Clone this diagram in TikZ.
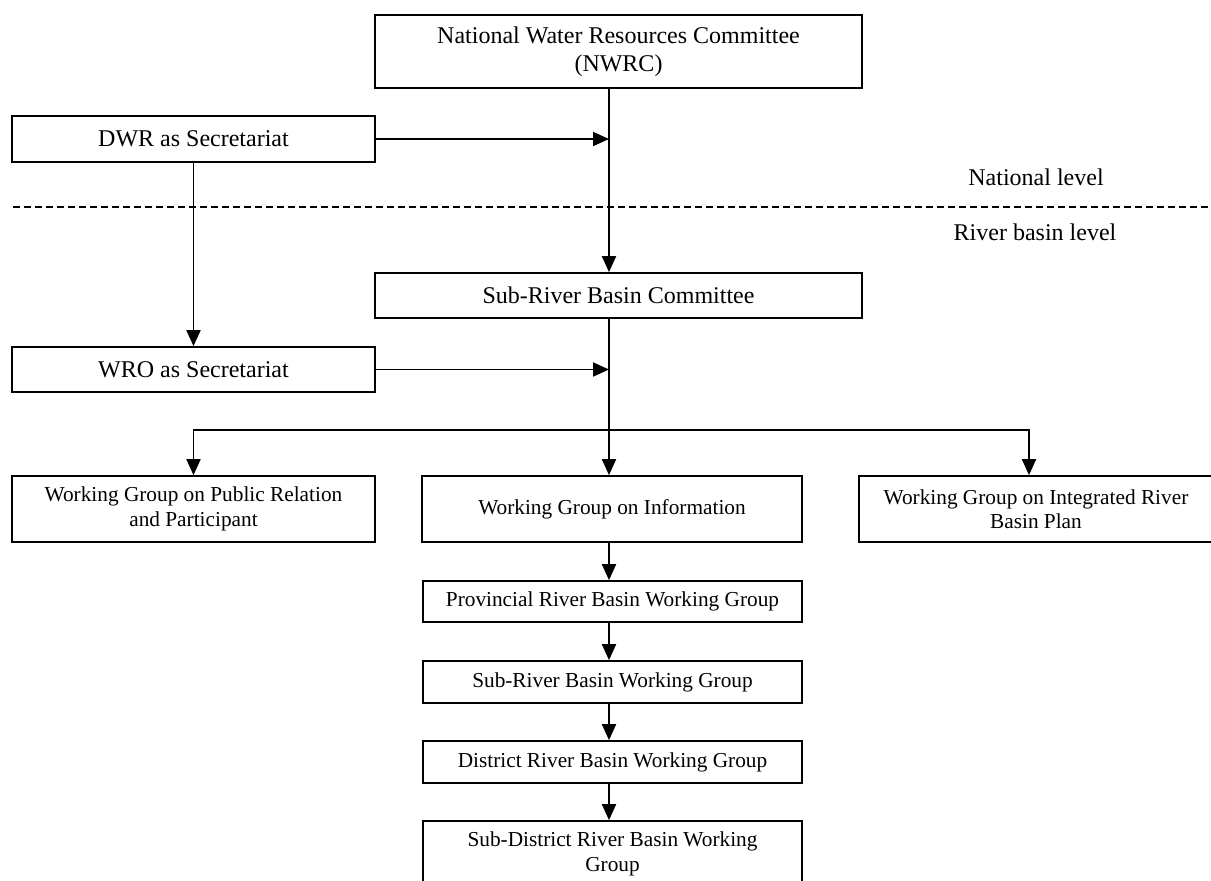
\documentclass[tikz,border=0pt]{standalone}
\usepackage{fontspec}
\setmainfont{Liberation Serif}
\usetikzlibrary{arrows.meta,calc}
\newcommand\fbig{\fontsize{24}{27.6}\selectfont}
\newcommand\fsmall{\fontsize{21.3}{24.5}\selectfont}
\begin{document}
\begin{tikzpicture}[x=1pt,y=-1pt,
  box/.style={draw,line width=1.7pt,inner sep=0pt,align=center},
  bigbox/.style={box,font=\fbig},
  smallbox/.style={box,font=\fsmall},
  arr/.style={line width=1.9pt,-{Triangle[length=16pt,width=14pt]}},
  lvl/.style={font=\fbig,inner sep=0pt}]
\useasboundingbox[fill=white] (0,0) rectangle (1211,881);
\coordinate (sp) at (609,0);
% boxes
\node[bigbox,minimum width=487pt,minimum height=73pt] (nwrc) at (618.5,51.5) {National Water Resources Committee\\(NWRC)};
\node[bigbox,minimum width=363pt,minimum height=46pt] (dwr) at (193.5,139) {DWR as Secretariat};
\node[bigbox,minimum width=487pt,minimum height=45pt] (srbc) at (618.5,295.5) {Sub-River Basin Committee};
\node[bigbox,minimum width=363pt,minimum height=45pt] (wro) at (193.5,369.5) {WRO as Secretariat};
\node[smallbox,minimum width=363pt,minimum height=66pt] (pr) at (193.5,509) {Working Group on Public Relation\\and Participant};
\node[smallbox,minimum width=380pt,minimum height=66pt] (info) at (612,509) {Working Group on Information};
\node[smallbox,minimum width=354pt,minimum height=66pt] (irbp) at (1036,509) {Working Group on Integrated River\\Basin Plan};
\node[smallbox,minimum width=379pt,minimum height=41pt] (prov) at (612.5,601.5) {Provincial River Basin Working Group};
\node[smallbox,minimum width=379pt,minimum height=42pt] (srbwg) at (612.5,682) {Sub-River Basin Working Group};
\node[smallbox,minimum width=379pt,minimum height=42pt] (dist) at (612.5,762) {District River Basin Working Group};
\node[smallbox,minimum width=379pt,minimum height=66pt] (subd) at (612.5,854) {Sub-District River Basin Working\\Group};
% level labels
\node[lvl] (nat) at (1036,177) {National level};
\node[lvl] (rb) at (1035,232) {River basin level};
\coordinate (dl) at (13,207);
\coordinate (dr) at (1211,207);
\draw[line width=1.4pt,dash pattern=on 7pt off 4pt] (dl) -- (dr);
% connectors
\draw[arr] (nwrc.south -| sp) -- (srbc.north -| sp);
\draw[arr] (dwr.east) -- (dwr.east -| sp);
\draw[arr] (dwr.south) -- (wro.north);
\draw[arr] (wro.east) -- (wro.east -| sp);
\draw[arr] (srbc.south -| sp) -- (info.north -| sp);
\coordinate (br) at (609,430);
\draw[arr] (br) -| (pr.north);
\draw[arr] (br) -| ($(irbp.north)+(-7,0)$);
\draw[arr] (info.south -| sp) -- (prov.north -| sp);
\draw[arr] (prov.south -| sp) -- (srbwg.north -| sp);
\draw[arr] (srbwg.south -| sp) -- (dist.north -| sp);
\draw[arr] (dist.south -| sp) -- (subd.north -| sp);
\end{tikzpicture}
\end{document}
